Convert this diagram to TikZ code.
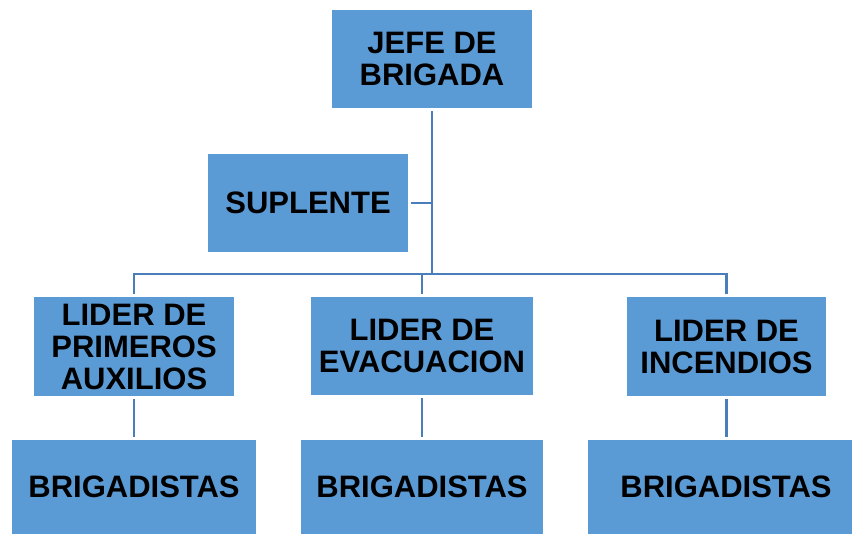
\documentclass[tikz,border=0pt]{standalone}
\usepackage{fontspec}
\setmainfont{Liberation Sans}
\definecolor{boxblue}{HTML}{5B9BD5}
\definecolor{lineblue}{HTML}{4A7EBB}
\tikzset{
  puesto/.style={
    fill=boxblue, draw=none, inner sep=0pt, align=center,
    font=\fontsize{31}{32}\selectfont\bfseries
  },
  enlace/.style={
    draw=lineblue, line width=2.2pt, shorten <=3pt, shorten >=3pt
  }
}

\begin{document}
\begin{tikzpicture}[x=1pt,y=-1pt]
\newcommand{\cajah}{98}
\newcommand{\cajaw}{200}
\useasboundingbox (0,0) rectangle (853,534);

\node [puesto, minimum width=\cajaw, minimum height=\cajah] (jefe) at (432,59) {JEFE DE\\BRIGADA};
\node [puesto, minimum width=\cajaw, minimum height=\cajah] (suplente) at (308,203) {SUPLENTE};

\node [puesto, minimum width=\cajaw, minimum height=99] (primeros) at (134,346.5) {LIDER DE\\PRIMEROS\\AUXILIOS};
\node [puesto, minimum width=222, minimum height=\cajah] (evacuacion) at (422,346) {LIDER DE\\EVACUACION};
\node [puesto, minimum width=199, minimum height=99] (incendios) at (726.5,346.5) {LIDER DE\\INCENDIOS};

\node [puesto, minimum width=244, minimum height=94] (brigp) at (134,487) {BRIGADISTAS};
\node [puesto, minimum width=242, minimum height=94] (brige) at (422,487) {BRIGADISTAS};
\node [puesto, minimum width=264, minimum height=94] (brigi) at (720,487) {\hspace{12pt}BRIGADISTAS};

\coordinate (bus) at (432,274);

\draw [enlace, shorten >=0pt] (jefe.south) -- (bus);
\draw [enlace, shorten >=0pt] (suplente.east) -- (suplente.east -| bus);
\draw [enlace, shorten >=0pt] (primeros.north) |- (bus);
\draw [enlace, shorten >=0pt] (incendios.north) |- (bus);
\draw [enlace, shorten >=0pt] (evacuacion.north) -- (evacuacion.north |- bus);

\draw [enlace] (primeros.south) -- (brigp.north);
\draw [enlace] (evacuacion.south) -- (brige.north);
\draw [enlace] (incendios.south) -- (incendios.south |- brigi.north);
\end{tikzpicture}
\end{document}
